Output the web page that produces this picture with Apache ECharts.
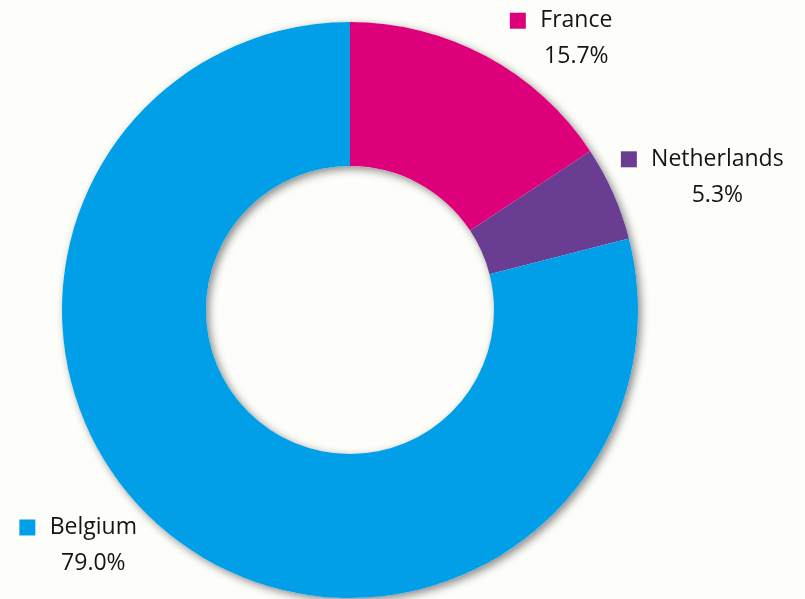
<!DOCTYPE html>
<html>
<head>
<meta charset="utf-8">
<script src="https://cdn.jsdelivr.net/npm/echarts@6/dist/echarts.min.js"></script>
<style>
  html, body { margin: 0; padding: 0; background: #fdfdfa; }
  #chart { width: 805px; height: 599px; }
</style>
</head>
<body>
<div id="chart"></div>
<script>
// Share of the total by country (%)
const countries = ['France', 'Netherlands', 'Belgium'];
const shares = [15.7, 5.3, 79.0];
const colors = ['#de007a', '#683d92', '#009fe8'];

const FONT = '"Open Sans", sans-serif';
const FONT_SIZE = 23;
const TEXT_COLOR = '#141414';
const BG = '#fdfdfa';

// Label placement per slice: radial push and horizontal run of the hidden leader line
const leaderLength = [20, 39, 10];
const leaderLength2 = [9, -33, 25];

const ctx = document.createElement('canvas').getContext('2d');
ctx.font = FONT_SIZE + 'px ' + FONT;
const textWidth = s => Math.ceil(ctx.measureText(s).width);
const pct = v => v.toFixed(1) + '%';

// Rich-text styles: a colour square, then name over percentage, both centred in one box
const rich = { gap: { width: 14 }, pad: { width: 30 } };
countries.forEach((c, i) => {
  const w = Math.max(textWidth(c), textWidth(pct(shares[i])));
  rich['sq' + i] = { width: 16, height: 16, backgroundColor: colors[i] };
  rich['t' + i] = {
    width: w, align: 'center', fontSize: FONT_SIZE, fontFamily: FONT,
    color: TEXT_COLOR, lineHeight: 36
  };
});

const chart = echarts.init(document.getElementById('chart'), null, { renderer: 'canvas' });
chart.setOption({
  backgroundColor: BG,
  animation: false,
  series: [
    {
      // plain ring underneath that carries the drop shadow of the whole donut
      type: 'pie',
      silent: true,
      center: [350, 310],
      radius: [144, 288],
      label: { show: false },
      labelLine: { show: false },
      emphasis: { disabled: true },
      itemStyle: {
        color: BG,
        shadowBlur: 9,
        shadowColor: 'rgba(0,0,0,0.45)',
        shadowOffsetX: 3,
        shadowOffsetY: 3
      },
      data: [{ value: 1, name: '' }]
    },
    {
      type: 'pie',
      center: [350, 310],
      radius: [144, 288],
      startAngle: 90,
      clockwise: true,
      avoidLabelOverlap: false,
      emphasis: { disabled: true },
      label: {
        show: true,
        position: 'outside',
        distanceToLabelLine: 5,
        rich: rich,
        formatter: p => {
          const i = p.dataIndex;
          return '{sq' + i + '|}{gap|}{t' + i + '|' + p.name + '}\n{pad|}{t' + i + '|' + pct(p.value) + '}';
        }
      },
      labelLine: { show: false },
      data: countries.map((c, i) => ({
        name: c,
        value: shares[i],
        itemStyle: { color: colors[i] },
        labelLine: { show: false, length: leaderLength[i], length2: leaderLength2[i] }
      }))
    }
  ]
});
</script>
</body>
</html>
